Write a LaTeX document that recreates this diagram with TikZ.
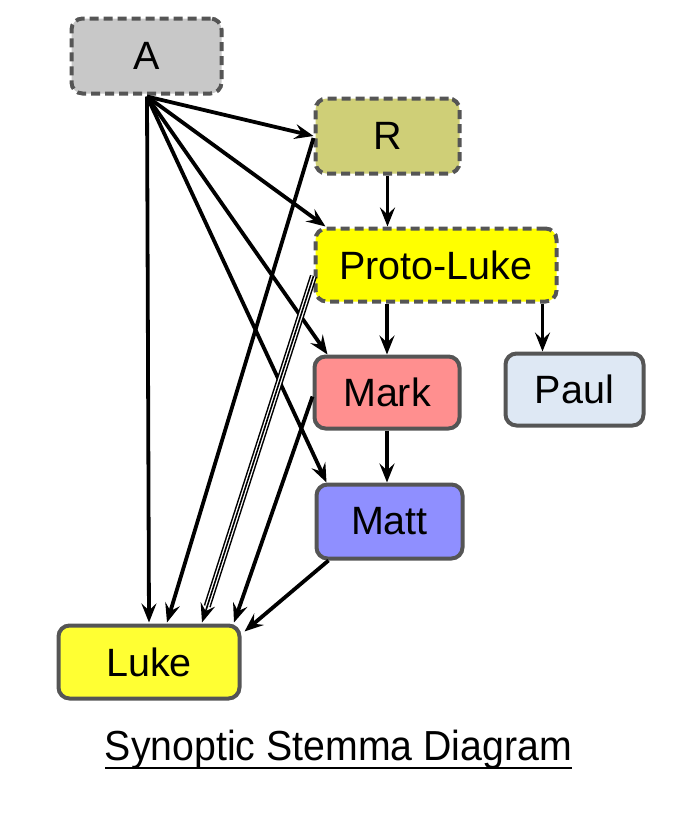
\documentclass[tikz,border=0pt]{standalone}
\usepackage{fontspec}
\setmainfont{Liberation Sans}
\usetikzlibrary{arrows.meta,calc}
\definecolor{bord}{HTML}{555555}
\definecolor{cA}{HTML}{C8C8C8}
\definecolor{cR}{HTML}{CFCF77}
\definecolor{cPL}{HTML}{FFFF00}
\definecolor{cMark}{HTML}{FF8F8F}
\definecolor{cPaul}{HTML}{DEE8F4}
\definecolor{cMatt}{HTML}{8F8FFF}
\definecolor{cLuke}{HTML}{FFFF33}
\tikzset{
  box/.style={draw=bord, line width=4pt, rounded corners=11pt, inner sep=0pt,
    font=\fontsize{39.5}{42}\selectfont, text=black},
  dbox/.style={box, dash pattern=on 9pt off 5pt},
  arr/.style={line width=3.8pt, -{Stealth[length=19pt, width=15pt, inset=7pt]}},
}
\begin{document}
\begin{tikzpicture}[x=1pt,y=-1pt]
\useasboundingbox (0,0) rectangle (674,815);
\node[dbox, fill=cA, minimum width=150pt, minimum height=75pt] (A) at (146.5,56) {A};
\node[dbox, fill=cR, minimum width=144pt, minimum height=75pt] (R) at (387.5,136) {R};
\node[dbox, fill=cPL, minimum width=241pt, minimum height=73pt] (PL) at (436,265) {Proto-Luke};
\node[box, fill=cMark, minimum width=145pt, minimum height=72pt] (Mark) at (387,392.5) {Mark};
\node[box, fill=cPaul, minimum width=138pt, minimum height=72pt] (Paul) at (574.5,389.5) {Paul};
\node[box, fill=cMatt, minimum width=146pt, minimum height=74pt] (Matt) at (389.5,521.5) {Matt};
\node[box, fill=cLuke, minimum width=181pt, minimum height=73pt] (Luke) at (149,662) {Luke};
\node[font=\fontsize{42}{44}\selectfont, anchor=base, xscale=0.935] (T) at (338.5,760) {Synoptic Stemma Diagram};
\draw[line width=2.4pt] (105,768) -- (572,768);

% edges from A
\coordinate (a0) at ($(A.south)+(0.5,1)$);
\draw[arr] (a0) -- (R.west);
\draw[arr] (a0) -- ($(PL.north west)+(12,0)$);
\draw[arr] (a0) -- ($(Mark.north west)+(15,0)$);
\draw[arr] (a0) -- ($(Matt.north west)+(12,0)$);
\draw[arr] (a0) -- ($(Luke.north)+(0,-1)$);
% to Luke
\draw[arr] ($(R.west)+(0,2)$) -- ($(Luke.north)+(18,-1)$);
\coordinate (pl0) at ($(PL.west)+(0,11)$);
\coordinate (pl1) at ($(Luke.north)+(53,-1)$);
\draw[line width=1.5pt, double=white, double distance=4.2pt, shorten >=17pt] (pl0) -- (pl1);
\draw[arr, line width=1.6pt] (pl0) -- (pl1);
\draw[arr] ($(Mark.west)+(0,4)$) -- ($(Luke.north)+(85,-1)$);
\draw[arr] ($(Matt.south west)+(14,0)$) -- ($(Luke.north east)+(3,8)$);
% vertical edges
\draw[arr] (R.south) -- (R.south |- PL.north);
\draw[arr] (Mark.north |- PL.south) -- (Mark.north);
\coordinate (p1) at ($(PL.south east)+(-16,0)$);
\draw[arr] (p1) -- (p1 |- Paul.north);
\draw[arr] (Mark.south) -- (Mark.south |- Matt.north);
\end{tikzpicture}
\end{document}
